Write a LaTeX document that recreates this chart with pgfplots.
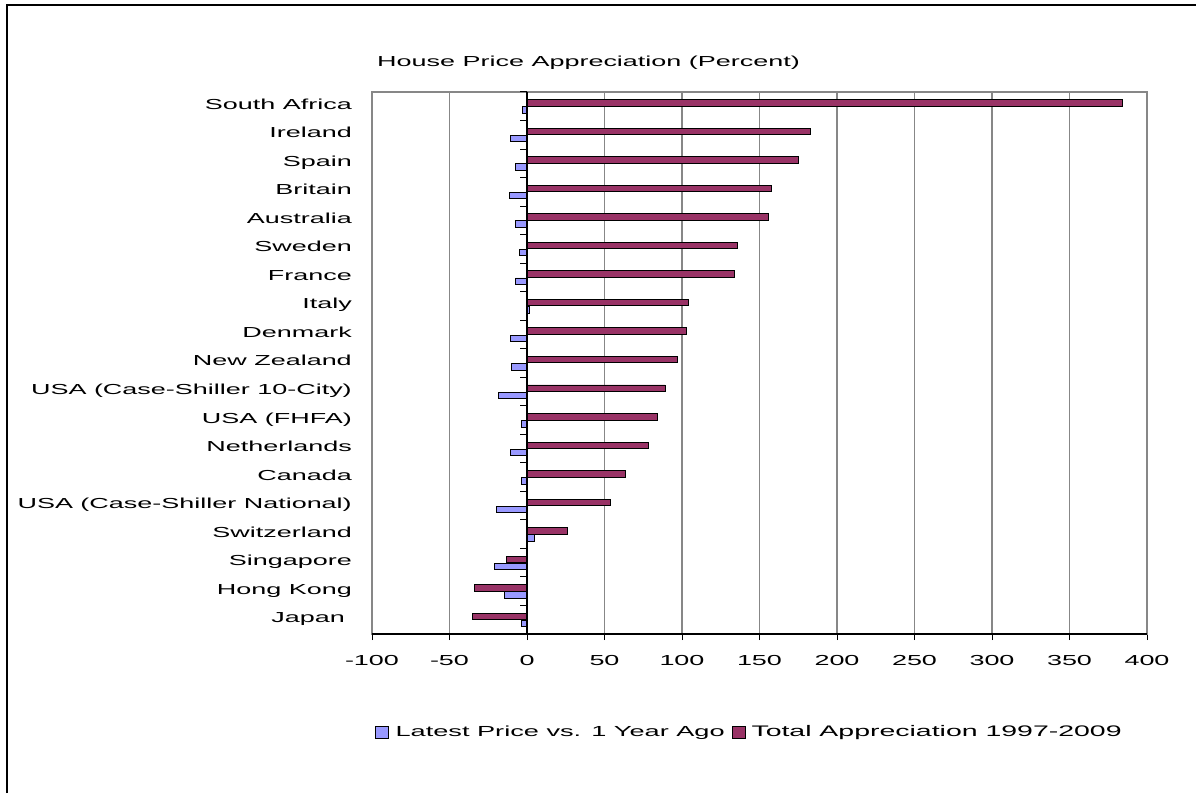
\documentclass[border=0pt]{standalone}
\usepackage{pgfplots}
\pgfplotsset{compat=1.18}
\usepackage{pgfplotstable}
\usepackage{fontspec}
\setmainfont{Liberation Sans}[FakeStretch=1.86]
\definecolor{barblue}{RGB}{153,153,255}
\definecolor{barpurple}{RGB}{153,51,102}
\definecolor{gridgray}{RGB}{135,135,135}

\pgfplotstableread{
idx latest total
18 -2.7 384.0
17 -10.9 182.6
16 -7.4 175.3
15 -11.1 158.0
14 -7.4 155.5
13 -4.6 135.9
12 -7.4 133.7
11 1.3 104.2
10 -10.9 103.0
9 -9.8 96.9
8 -18.4 89.0
7 -3.8 84.2
6 -10.9 78.2
5 -3.8 63.8
4 -19.5 53.9
3 5.0 25.9
2 -20.8 -13.2
1 -14.8 -34.1
0 -3.8 -35.4
}\data

\begin{document}
\begin{tikzpicture}[font=\fontsize{14.5}{17}\selectfont]
\useasboundingbox (0pt,0pt) rectangle (1196pt,793pt);
\fill[white] (0pt,0pt) rectangle (1196pt,793pt);
\draw[line width=2pt] (7pt,0pt) -- (7pt,788pt) -- (1196pt,788pt);
\node[anchor=base west, inner sep=0pt] at (377pt,726pt) {House Price Appreciation (Percent)};
\begin{axis}[
  at={(372pt,159pt)}, anchor=south west,
  scale only axis, width=775pt, height=542pt,
  xmin=-100, xmax=400, ymin=-0.5, ymax=18.5,
  xtick={-100,-50,...,400},
  ytick={0,...,18},
  yticklabels={{Japan\kern7pt},{Hong Kong},{Singapore},{Switzerland},{USA (Case-Shiller National)},{Canada},{Netherlands},{USA (FHFA)},{USA (Case-Shiller 10-City)},{New Zealand},{Denmark},{Italy},{France},{Sweden},{Australia},{Britain},{Spain},{Ireland},{South Africa}},
  /pgf/number format/assume math mode=true,
  tick label style={font=\fontsize{14.5}{17}\selectfont, text=black},
  xticklabel style={inner sep=0pt, yshift=-15pt},
  yticklabel style={inner sep=0pt, anchor=base east, xshift=-14pt, yshift=-3pt},
  xtick pos=bottom,
  tick align=outside,
  major tick length=6pt,
  xtick style={black, line width=1pt},
  ytick style={draw=none},
  xmajorgrids,
  grid style={gridgray, line width=1.4pt},
  axis line style={gridgray, line width=1.4pt},
  legend columns=2,
  legend style={draw=none, fill=none, inner sep=0pt, outer sep=0pt,
    at={(0.0035,-0.1808)}, anchor=west,
    nodes={inner sep=0pt, outer sep=0pt, font=\fontsize{14.6}{17}\selectfont},
    column sep=0pt,
    /tikz/every odd column/.append style={column sep=0pt},
    /tikz/every even column/.append style={column sep=0pt}},
]
\addplot[xbar, bar width=6.5pt, bar shift=-3.8pt, fill=barblue, draw=black, line width=0.9pt,
  /pgfplots/legend image code/.code={\path[fill=barblue, draw=black, line width=0.9pt] (0pt,-6pt) rectangle (13pt,6pt); \path (0pt,0pt) (20pt,0pt);}]
  table[x=latest, y=idx]{\data};
\addlegendentry{\makebox[336pt][l]{Latest Price vs. 1 Year Ago}}
\addplot[xbar, bar width=6.5pt, bar shift=3.3pt, fill=barpurple, draw=black, line width=0.9pt,
  /pgfplots/legend image code/.code={\path[fill=barpurple, draw=black, line width=0.9pt] (0pt,-6pt) rectangle (13pt,6pt); \path (0pt,0pt) (19pt,0pt);}]
  table[x=total, y=idx]{\data};
\addlegendentry{\fontsize{15.3}{17}\selectfont Total Appreciation 1997-2009}
\draw[black, line width=1.2pt] (axis cs:0,-0.5) -- (axis cs:0,18.5);
\draw[black, line width=1.2pt] (rel axis cs:0,0) -- (rel axis cs:1,0);
\pgfplotsinvokeforeach{-0.5,0.5,...,18.5}{
  \draw[black, line width=1pt] (axis cs:0,#1) -- ++(-7pt,0pt);
}
\end{axis}
\end{tikzpicture}
\end{document}
